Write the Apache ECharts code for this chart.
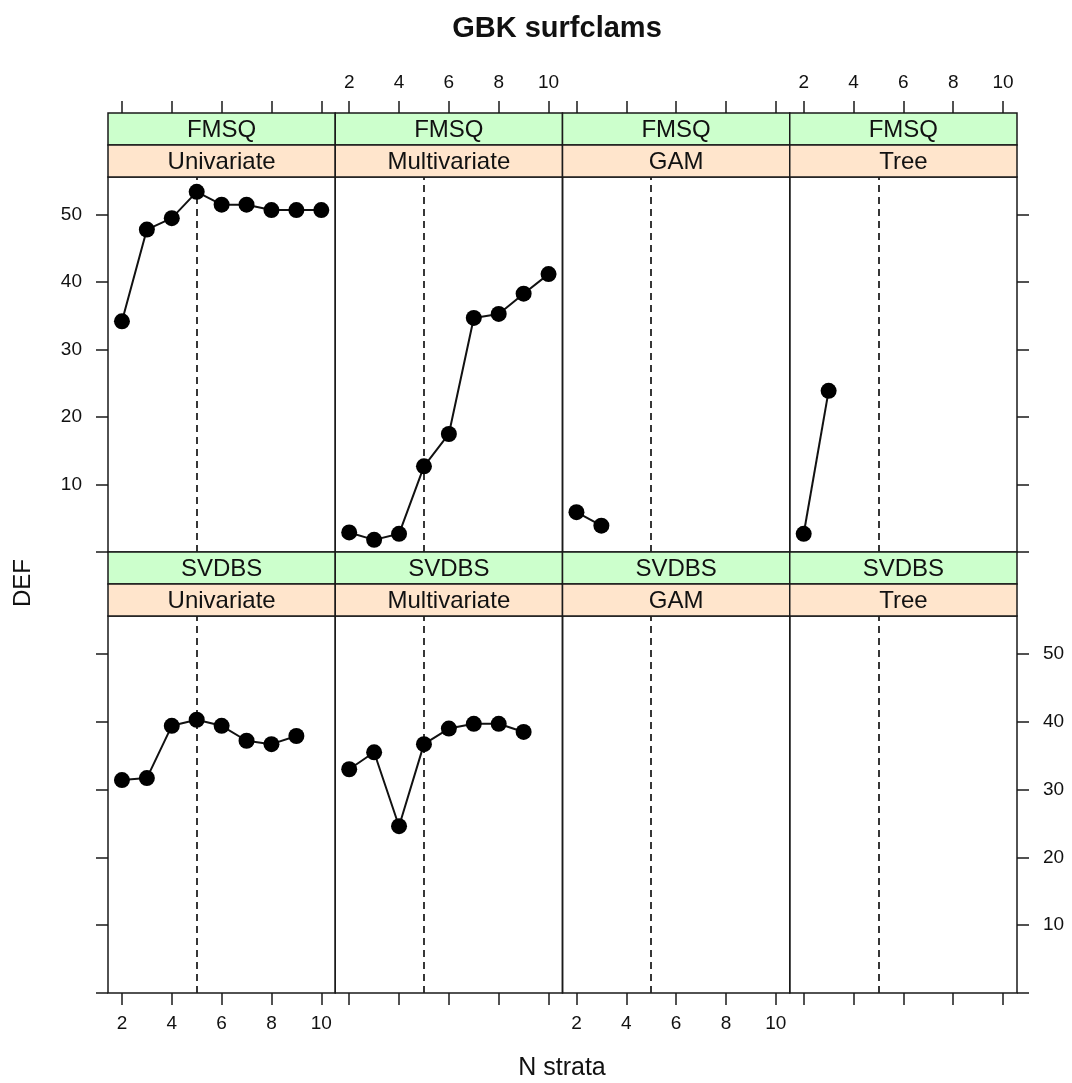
<!DOCTYPE html>
<html>
<head>
<meta charset="utf-8">
<script src="https://cdn.jsdelivr.net/npm/echarts@6/dist/echarts.min.js"></script>
<style>html,body{margin:0;padding:0;background:#fff;}#chart{width:1072px;height:1083px;}</style>
</head>
<body>
<div id="chart"></div>
<script>
// ---- data ----
const nStrata = [2, 3, 4, 5, 6, 7, 8, 9, 10];
const methods = ['Univariate', 'Multivariate', 'GAM', 'Tree'];
const groups = ['FMSQ', 'SVDBS'];
const fmsqUnivariate = [34.2, 47.8, 49.5, 53.4, 51.5, 51.5, 50.7, 50.7, 50.7];
const fmsqMultivariate = [2.9, 1.8, 2.7, 12.7, 17.5, 34.7, 35.3, 38.3, 41.2];
const fmsqGAM = [5.9, 3.9];
const fmsqTree = [2.7, 23.9];
const svdbsUnivariate = [31.4, 31.7, 39.4, 40.3, 39.4, 37.2, 36.7, 37.9];
const svdbsMultivariate = [33.0, 35.5, 24.6, 36.7, 39.0, 39.7, 39.7, 38.5];
const svdbsGAM = [];
const svdbsTree = [];
const refStrata = 5;
const xTicks = [2, 4, 6, 8, 10];
const yTicks = [0, 10, 20, 30, 40, 50];
const yLabels = [10, 20, 30, 40, 50];

const panelValues = [
  [fmsqUnivariate, fmsqMultivariate, fmsqGAM, fmsqTree],
  [svdbsUnivariate, svdbsMultivariate, svdbsGAM, svdbsTree]
];

// ---- layout ----
const FONT = '"Liberation Sans", Arial, Helvetica, sans-serif';
const left0 = 108, right0 = 1017;
const colW = (right0 - left0) / 4;
const stripH = 32;
const rows = [
  { stripTop: 113, gridTop: 177, gridH: 375 },
  { stripTop: 552, gridTop: 616, gridH: 377 }
];
const stripColors = ['#CCFFCC', '#FFE5CC'];

const grids = [], xAxes = [], yAxes = [], series = [], graphics = [];
let idx = 0;
for (let r = 0; r < 2; r++) {
  for (let c = 0; c < 4; c++) {
    const gl = left0 + c * colW;
    grids.push({
      left: gl, top: rows[r].gridTop, width: colW, height: rows[r].gridH,
      show: true, borderColor: '#1a1a1a', borderWidth: 1.5, backgroundColor: 'transparent',
      containLabel: false
    });
    const xLabelled = (r === 0 && (c === 1 || c === 3)) || (r === 1 && (c === 0 || c === 2));
    xAxes.push({
      gridIndex: idx, type: 'value', min: 1.44, max: 10.56,
      position: r === 0 ? 'top' : 'bottom',
      offset: r === 0 ? (rows[r].gridTop - rows[r].stripTop) : 0,
      axisLine: { show: false, onZero: false },
      splitLine: { show: false },
      axisTick: { show: true, inside: false, length: 12, customValues: xTicks,
                  lineStyle: { color: '#1a1a1a', width: 1.5 } },
      axisLabel: { show: xLabelled, customValues: xTicks, margin: 21,
                   fontSize: 19, color: '#111', fontFamily: FONT }
    });
    const yShow = (c === 0 || c === 3);
    const yLabelled = (r === 0 && c === 0) || (r === 1 && c === 3);
    yAxes.push({
      gridIndex: idx, type: 'value', min: 0, max: 55.6,
      show: yShow,
      position: c === 3 ? 'right' : 'left',
      axisLine: { show: false, onZero: false },
      splitLine: { show: false },
      axisTick: { show: true, inside: false, length: 12, customValues: yTicks,
                  lineStyle: { color: '#1a1a1a', width: 1.5 } },
      axisLabel: { show: yLabelled, customValues: yLabels, margin: 26,
                   fontSize: 19, color: '#111', fontFamily: FONT }
    });
    const vals = panelValues[r][c];
    series.push({
      type: 'line',
      name: groups[r] + ' ' + methods[c],
      xAxisIndex: idx, yAxisIndex: idx,
      data: vals.map((v, i) => [nStrata[i], v]),
      symbol: 'circle', symbolSize: 16,
      itemStyle: { color: '#000' },
      lineStyle: { color: '#111', width: 2 },
      z: 5,
      markLine: {
        silent: true, symbol: ['none', 'none'],
        label: { show: false },
        lineStyle: { color: '#222', type: [7, 5], width: 1.8 },
        data: [{ xAxis: refStrata }]
      }
    });
    // strips
    const labels = [groups[r], methods[c]];
    for (let s = 0; s < 2; s++) {
      const sy = rows[r].stripTop + s * stripH;
      graphics.push({
        type: 'rect', shape: { x: gl, y: sy, width: colW, height: stripH },
        style: { fill: stripColors[s], stroke: '#1a1a1a', lineWidth: 1.5 }, z: 10
      });
      graphics.push({
        type: 'text', x: gl + colW / 2, y: sy + stripH / 2 + 1,
        style: { text: labels[s], align: 'center', verticalAlign: 'middle',
                 fontSize: 24, fontFamily: FONT, fill: '#111' }, z: 11
      });
    }
    idx++;
  }
}

graphics.push({
  type: 'text', x: 23, y: 583, rotation: Math.PI / 2,
  style: { text: 'DEF', align: 'center', verticalAlign: 'middle',
           fontSize: 24, fontFamily: FONT, fill: '#111' }
});
graphics.push({
  type: 'text', x: 562, y: 1068,
  style: { text: 'N strata', align: 'center', verticalAlign: 'middle',
           fontSize: 25, fontFamily: FONT, fill: '#111' }
});

const chart = echarts.init(document.getElementById('chart'), null, { renderer: 'canvas' });
chart.setOption({
  animation: false,
  backgroundColor: '#fff',
  title: {
    text: 'GBK surfclams', left: 552, textAlign: 'center', top: 9,
    textStyle: { fontSize: 29, fontWeight: 'bold', fontFamily: FONT, color: '#111' }
  },
  grid: grids,
  xAxis: xAxes,
  yAxis: yAxes,
  series: series,
  graphic: graphics
});
</script>
</body>
</html>
